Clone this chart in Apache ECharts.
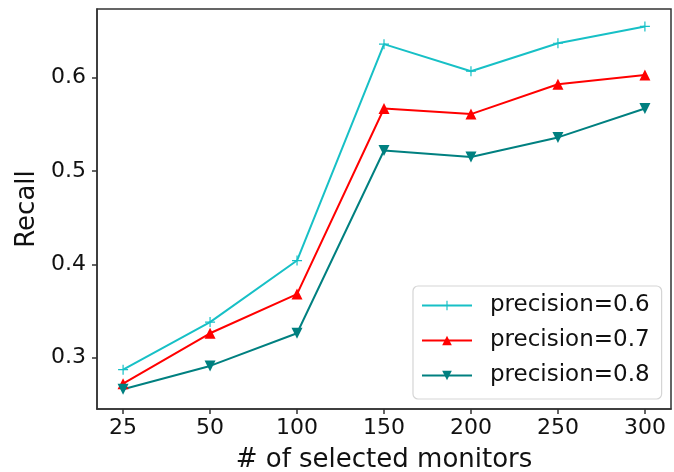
<!DOCTYPE html>
<html>
<head>
<meta charset="utf-8">
<script src="https://cdn.jsdelivr.net/npm/echarts@6/dist/echarts.min.js"></script>
<style>
  html, body { margin: 0; padding: 0; background: #fff; }
  #chart { width: 674px; height: 472px; }
</style>
</head>
<body>
<div id="chart"></div>
<script>
// monitors selected (shown as evenly spaced categories)
var monitors = ['25', '50', '100', '150', '200', '250', '300'];
var recallP06 = [0.287, 0.338, 0.404, 0.636, 0.607, 0.637, 0.655];
var recallP07 = [0.272, 0.326, 0.368, 0.567, 0.561, 0.593, 0.603];
var recallP08 = [0.266, 0.291, 0.326, 0.522, 0.515, 0.536, 0.567];
var yTicks = [0.3, 0.4, 0.5, 0.6];

var FONT = 'DejaVu Sans';
var PLUS = 'path://M-1.2,-10 L1.2,-10 L1.2,-1.2 L10,-1.2 L10,1.2 L1.2,1.2 L1.2,10 L-1.2,10 L-1.2,1.2 L-10,1.2 L-10,-1.2 L-1.2,-1.2 Z';

function toPoints(values) {
    return values.map(function (v, i) { return [i, v]; });
}

function makeSeries(name, values, color, symbol, size, rotate) {
    return {
        name: name,
        type: 'line',
        data: toPoints(values),
        symbol: symbol,
        symbolSize: size,
        symbolRotate: rotate || 0,
        showAllSymbol: true,
        lineStyle: { color: color, width: 2 },
        itemStyle: { color: color },
        emphasis: { disabled: true },
        z: 3
    };
}

var myChart = echarts.init(document.getElementById('chart'));
var indexTicks = monitors.map(function (m, i) { return i; });

var option = {
    animation: false,
    backgroundColor: '#fff',
    grid: {
        left: 97, right: 3, top: 9, bottom: 63,
        outerBoundsMode: 'none',
        show: true, borderColor: '#333', borderWidth: 1.5
    },
    xAxis: {
        type: 'value',
        min: -0.3, max: 6.3,
        name: '# of selected monitors',
        nameLocation: 'middle',
        nameGap: 38,
        nameTextStyle: { fontFamily: FONT, fontSize: 26, color: '#111' },
        axisLine: { show: true, onZero: false, lineStyle: { color: '#333', width: 1.5 } },
        axisTick: { show: true, customValues: indexTicks, length: 5, lineStyle: { color: '#333', width: 1.5 } },
        axisLabel: {
            customValues: indexTicks,
            margin: 8,
            fontFamily: FONT, fontSize: 22, color: '#111',
            formatter: function (v) { return monitors[Math.round(v)]; }
        },
        splitLine: { show: false }
    },
    yAxis: {
        type: 'value',
        min: 0.2448, max: 0.6737,
        name: 'Recall',
        nameLocation: 'middle',
        nameGap: 54,
        nameTextStyle: { fontFamily: FONT, fontSize: 26, color: '#111' },
        axisLine: { show: true, onZero: false, lineStyle: { color: '#333', width: 1.5 } },
        axisTick: { show: true, customValues: yTicks, length: 5, lineStyle: { color: '#333', width: 1.5 } },
        axisLabel: {
            customValues: yTicks,
            margin: 11,
            fontFamily: FONT, fontSize: 22, color: '#111',
            formatter: function (v) { return v.toFixed(1); }
        },
        splitLine: { show: false }
    },
    legend: {
        orient: 'vertical',
        left: 413, top: 286,
        width: 249,
        padding: [8, 12, 12, 8],
        itemWidth: 50, itemHeight: 12,
        itemGap: 12,
        backgroundColor: 'rgba(255,255,255,0.85)',
        borderColor: '#d5d5d5', borderWidth: 1.2, borderRadius: 5,
        textStyle: { fontFamily: FONT, fontSize: 23, color: '#111', padding: [0, 0, 0, 13] },
        data: ['precision=0.6', 'precision=0.7', 'precision=0.8']
    },
    series: [
        makeSeries('precision=0.6', recallP06, '#17c0c6', PLUS, 10),
        makeSeries('precision=0.7', recallP07, '#ff0000', 'triangle', 11),
        makeSeries('precision=0.8', recallP08, '#008080', 'triangle', 11, 180)
    ]
};

option && myChart.setOption(option);

window.addEventListener('resize', function () {
    myChart.resize();
});
</script>
</body>
</html>
